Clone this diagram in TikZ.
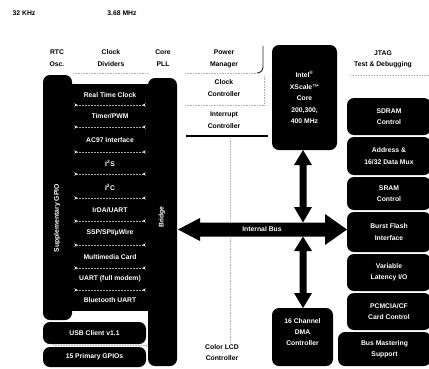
\documentclass[tikz,border=0pt]{standalone}
\usepackage{fontspec}
\setmainfont{Liberation Sans}
\usetikzlibrary{arrows.meta}
\begin{document}
\begin{tikzpicture}[x=1pt,y=-1pt,
  lbl/.style={font=\bfseries\fontsize{6.8}{11.4}\selectfont, align=center, inner sep=0pt},
  wl/.style={lbl, text=white},
  bx/.style={wl, fill=black, rounded corners=7pt},
  bar/.style={fill=black, rounded corners=7pt, inner sep=0pt, minimum width=29pt},
  dline/.style={gray!60, densely dotted, line width=0.6pt},
  inarr/.style={gray!70, densely dotted, line width=0.5pt, shorten >=2pt, shorten <=2pt,
    {Stealth[reversed,length=3.5pt,width=3.5pt,color=white!85!gray]}-{Stealth[reversed,length=3.5pt,width=3.5pt,color=white!85!gray]}},
]
\useasboundingbox (0,0) rectangle (429,368);

% top labels
\node[lbl] (khz) at (24,13) {32 KHz};
\node[lbl] (mhz) at (122,13) {3.68 MHz};
\node[lbl] (rtcosc) at (57,58) {RTC\\Osc.};
\node[lbl] (clkdiv) at (111,58) {Clock\\Dividers};
\node[lbl] (pll) at (163,58) {Core\\PLL};
\coordinate (hl) at (73,73);
\coordinate (hr) at (147,73);
\draw[dline] (hl) -- (hr);

% left peripheral block
\node[bar, minimum height=245pt] (gpio) at (57.5,197.5) {};
\node[bar, minimum height=288pt] (bridge) at (162.5,222) {};
\fill (66,84) rectangle (154,311);
\node[wl, rotate=90] (gpiotxt) at (57,218) {Supplementary GPIO};
\node[wl, rotate=90] (bridgetxt) at (162,217) {Bridge};

\node[wl] (p1) at (110,95) {Real Time Clock};
\node[wl] (p2) at (110,116) {Timer/PWM};
\node[wl] (p3) at (110,140) {AC97 Interface};
\node[wl] (p4) at (110,163) {I\textsuperscript{2}S};
\node[wl] (p5) at (110,187) {I\textsuperscript{2}C};
\node[wl] (p6) at (110,210) {IrDA/UART};
\node[wl] (p7) at (110,233) {SSP/SPI/µWire};
\node[wl] (p8) at (110,257) {Multimedia Card};
\node[wl] (p9) at (110,279) {UART (full modem)};
\node[wl] (p10) at (110,300) {Bluetooth UART};
\foreach \y in {105,127,152,174,198,221,245,268,290}
  \draw[inarr] (gpio.east |- 0,\y) -- (bridge.west |- 0,\y);

\node[bx, minimum width=103pt, minimum height=22pt] (usb) at (94.5,333) {USB Client v1.1};
\node[bx, minimum width=103pt, minimum height=20pt] (gpios) at (94.5,357) {15 Primary GPIOs};
\draw[dline, -{Stealth[reversed,length=3pt,width=3pt]}] (53,345.5) -- (bridge.west |- 0,345.5);

% power manager group
\node[lbl] (pm) at (224,59) {Power\\Manager};
\node[lbl] (clk) at (224,88) {Clock\\Controller};
\node[lbl] (intc) at (224,120) {Interrupt\\Controller};
\draw[dline] (185,73) -- (257,73);
\draw[dline] (185,105) -- (264,105);
\draw[dline] (264,76) -- (264,105);
\draw[black!85, line width=0.9pt] (263,46) -- (263,67) to[out=-90,in=0] (257,73);
\draw[black, line width=1.1pt] (186,136) -- (268,136);

% core
\node[bx, minimum width=65pt, minimum height=105pt] (core) at (304.5,97.5)
  {Intel\textsuperscript{®}\\XScale™\\Core\\200,300,\\400 MHz};

% internal bus
\coordinate (busL) at (178,229.5);
\coordinate (busR) at (347,229.5);
\fill (busL) -- (200,218) -- (200,222.5) -- (325,222.5) -- (325,214) -- (busR)
  -- (325,245) -- (325,236.5) -- (200,236.5) -- (200,241) -- cycle;
\node[wl] (bus) at (262,229.5) {Internal Bus};

% vertical fat arrows
\fill (303,150) -- (312,165) -- (306.5,165) -- (306.5,207) -- (312,207) -- (303,222.5)
  -- (294,207) -- (299.5,207) -- (299.5,165) -- (294,165) -- cycle;
\fill (303,236.5) -- (312,251) -- (306.5,251) -- (306.5,293) -- (312,293) -- (303,308)
  -- (294,293) -- (299.5,293) -- (299.5,251) -- (294,251) -- cycle;

% DMA
\node[bx, minimum width=61pt, minimum height=58pt, text depth=10pt] (dma) at (302.5,337) {16 Channel\\DMA\\Controller};

% LCD
\node[lbl] (lcd) at (222,352.5) {Color LCD\\Controller};
\draw[dline] (230,138) -- (230,221);
\draw[dline] (230,238) -- (lcd.north -| 230,0);

% right column
\node[lbl] (jtag) at (383,59.5) {JTAG\\Test \& Debugging};
\draw[dline] (350,75) -- (429,75);
\node[bx, minimum width=84pt, minimum height=37pt] (sdram) at (389,116.5) {SDRAM\\Control};
\node[bx, minimum width=84pt, minimum height=38pt] (mux) at (389,156) {Address \&\\16/32 Data Mux};
\node[bx, minimum width=84pt, minimum height=33pt] (sram) at (389,193.5) {SRAM\\Control};
\node[bx, minimum width=84pt, minimum height=40pt] (flash) at (389,232) {Burst Flash\\Interface};
\node[bx, minimum width=84pt, minimum height=37pt] (vlio) at (389,272.5) {Variable\\Latency I/O};
\node[bx, minimum width=84pt, minimum height=37pt] (pcmcia) at (389,311.5) {PCMCIA/CF\\Card Control};
\node[bx, minimum width=93pt, minimum height=34pt] (busm) at (384.5,349) {Bus Mastering\\Support};
\end{tikzpicture}
\end{document}
